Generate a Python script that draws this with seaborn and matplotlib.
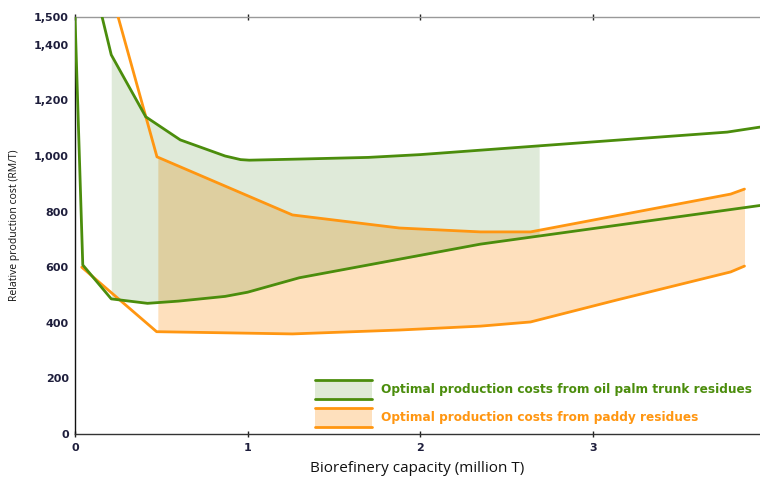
import numpy as np
import pandas as pd
import matplotlib.pyplot as plt
import seaborn as sns
from matplotlib.legend_handler import HandlerBase
from matplotlib.patches import Rectangle, Patch
from matplotlib.lines import Line2D

# oil palm trunk residues (green)
palm_low_x = [0.0, 0.045, 0.21, 0.42, 0.6, 0.87, 1.0, 1.3, 2.35, 3.97]
palm_low_y = [1500, 608, 486, 470, 478, 495, 510, 562, 683, 822]
palm_up_x = [0.157, 0.21, 0.41, 0.61, 0.87, 0.96, 1.01, 1.3, 1.7, 2.0, 2.7, 3.78, 3.97]
palm_up_y = [1500, 1364, 1141, 1058, 1000, 987, 985, 989, 995, 1005, 1037, 1086, 1104]

# paddy residues (orange)
paddy_low_x = [0.039, 0.473, 1.26, 1.88, 2.35, 2.64, 3.14, 3.8, 3.88]
paddy_low_y = [600, 368, 360, 374, 388, 403, 482, 583, 604]
paddy_up_x = [0.25, 0.475, 1.26, 1.88, 2.35, 2.64, 3.8, 3.88]
paddy_up_y = [1500, 997, 788, 741, 727, 727, 863, 881]

# shaded ranges
palm_band_x = [0.21, 0.42, 0.6, 0.87, 1.0, 1.3, 2.0, 2.35, 2.69]
palm_band_low = [486, 470, 478, 495, 510, 562, 640, 683, 713]
palm_band_up = [1364, 1141, 1058, 1000, 986, 989, 1005, 1020, 1036]
paddy_band_x = [0.48, 1.26, 1.88, 2.35, 2.64, 3.14, 3.8, 3.88]
paddy_band_low = [367, 360, 374, 388, 403, 482, 583, 604]
paddy_band_up = [995, 788, 741, 727, 727, 790, 863, 881]

labels = ['Optimal production costs from oil palm trunk residues',
          'Optimal production costs from paddy residues']
yticks = [0, 200, 400, 600, 800, 1000, 1200, 1400, 1500]

GREEN = '#4b8d0c'
ORANGE = '#ff9611'
GREEN_FILL = '#2a7300'
ORANGE_FILL = '#fee0bd'
TICK = '#1e1e3c'

sns.set_theme(style='white')
plt.rcParams['font.family'] = ['DejaVu Sans']

fig = plt.figure(figsize=(7.6, 4.82), dpi=100)
ax = fig.add_axes([0.0987, 0.0996, 0.9013, 0.8651])

ax.fill_between(paddy_band_x, paddy_band_low, paddy_band_up, color=ORANGE_FILL, lw=0)
ax.fill_between(palm_band_x, palm_band_low, palm_band_up, color=GREEN_FILL, alpha=0.15, lw=0)

lines = pd.concat([
    pd.DataFrame({'x': palm_low_x, 'y': palm_low_y, 's': 'palm_low'}),
    pd.DataFrame({'x': palm_up_x, 'y': palm_up_y, 's': 'palm_up'}),
    pd.DataFrame({'x': paddy_low_x, 'y': paddy_low_y, 's': 'paddy_low'}),
    pd.DataFrame({'x': paddy_up_x, 'y': paddy_up_y, 's': 'paddy_up'}),
])
pal = {'palm_low': GREEN, 'palm_up': GREEN, 'paddy_low': ORANGE, 'paddy_up': ORANGE}
sns.lineplot(data=lines, x='x', y='y', hue='s', units='s', estimator=None, sort=False,
             palette=pal, lw=2, legend=False, ax=ax, zorder=3)
# green lines above orange
for l in ax.lines:
    if l.get_color() == GREEN:
        l.set_zorder(4)

ax.set_xlim(0, 3.97)
ax.set_ylim(0, 1500)
ax.set_xticks([0, 1, 2, 3])
ax.set_yticks(yticks)
ax.set_yticklabels([f'{v:,}' for v in yticks])
ax.tick_params(axis='both', direction='inout', length=5, width=1, color='#222222',
               labelsize=8, labelcolor=TICK, pad=2)
ax.tick_params(axis='x', top=True, bottom=True, pad=4)
for lab in ax.get_xticklabels() + ax.get_yticklabels():
    lab.set_fontweight('bold')
ax.spines['left'].set_color('#111111')
ax.spines['bottom'].set_color('#333333')
ax.spines['top'].set_color('#999999')
ax.spines['right'].set_visible(False)
for s in ['left', 'bottom', 'top']:
    ax.spines[s].set_linewidth(1)

ax.set_xlabel('Biorefinery capacity (million T)', fontsize=11, family='Open Sans',
              color='#111111', labelpad=6)
ax.set_ylabel('Relative production cost (RM/T)', fontsize=7.5, family='Open Sans',
              color='#111111', labelpad=10)


class BandHandler(HandlerBase):
    def create_artists(self, legend, orig_handle, xdescent, ydescent, width, height,
                       fontsize, trans):
        x0, y0 = -xdescent, -ydescent
        rect = Rectangle((x0, y0), width, height, facecolor=orig_handle.get_facecolor(),
                         edgecolor='none', transform=trans)
        ec = orig_handle.get_edgecolor()
        top = Line2D([x0, x0 + width], [y0 + height, y0 + height], color=ec, lw=2, transform=trans)
        bot = Line2D([x0, x0 + width], [y0, y0], color=ec, lw=2, transform=trans)
        return [rect, top, bot]


handles = [Patch(facecolor='#dfead5', edgecolor=GREEN),
           Patch(facecolor=ORANGE_FILL, edgecolor=ORANGE)]
leg = ax.legend(handles, labels, handler_map={Patch: BandHandler()},
                loc='lower left', bbox_to_anchor=(0.35, 0.017), frameon=False,
                prop={'size': 8.7, 'weight': 'bold'}, handlelength=4.7, handleheight=2.05,
                labelspacing=0.75, handletextpad=0.8, borderpad=0, borderaxespad=0)
for t, c in zip(leg.get_texts(), [GREEN, ORANGE]):
    t.set_color(c)

fig.savefig('out.png', dpi=100)
